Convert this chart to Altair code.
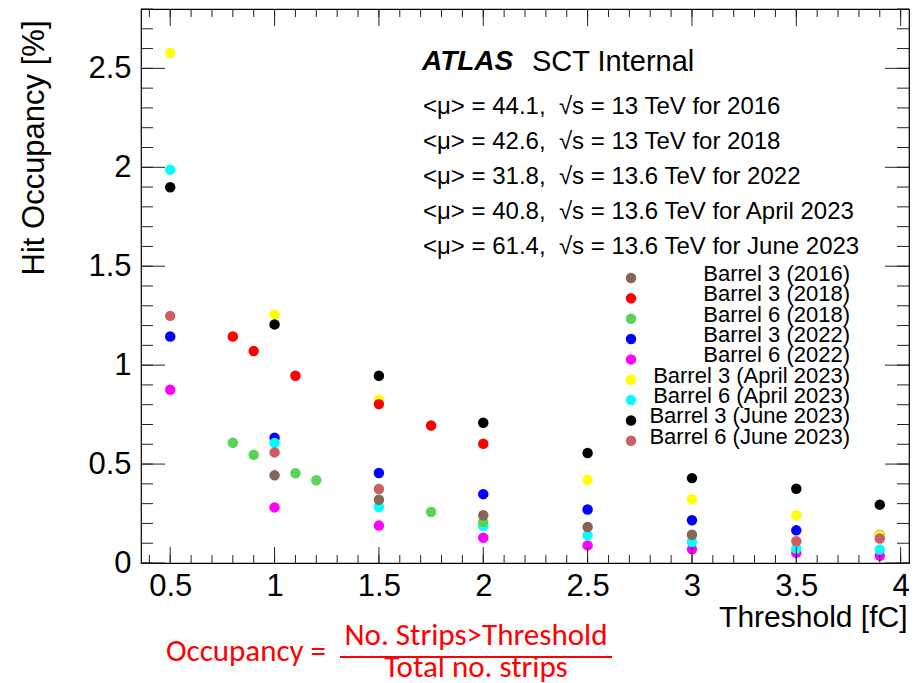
import altair as alt
import pandas as pd

# ---------------- data ----------------
series = ["Barrel 3 (2016)", "Barrel 3 (2018)", "Barrel 6 (2018)", "Barrel 3 (2022)",
          "Barrel 6 (2022)", "Barrel 3 (April 2023)", "Barrel 6 (April 2023)",
          "Barrel 3 (June 2023)", "Barrel 6 (June 2023)"]
colors = ["#876657", "#FF0000", "#59D454", "#0000FF", "#FF00FF", "#FFFF00", "#00FFFF",
          "#000000", "#CF5E61"]

thr_b3_2016 = [1.0, 1.5, 2.0, 2.5, 3.0]
occ_b3_2016 = [0.443, 0.320, 0.241, 0.182, 0.143]

thr_b3_2018 = [0.8, 0.9, 1.1, 1.5, 1.75, 2.0]
occ_b3_2018 = [1.145, 1.071, 0.946, 0.803, 0.695, 0.603]

thr_b6_2018 = [0.8, 0.9, 1.1, 1.2, 1.75, 2.0]
occ_b6_2018 = [0.608, 0.547, 0.454, 0.418, 0.258, 0.207]

thr_b3_2022 = [0.5, 1.0, 1.5, 2.0, 2.5, 3.0, 3.5, 3.9]
occ_b3_2022 = [1.145, 0.633, 0.455, 0.348, 0.270, 0.216, 0.165, 0.142]

thr_b6_2022 = [0.5, 1.0, 1.5, 2.0, 2.5, 3.0, 3.5, 3.9]
occ_b6_2022 = [0.876, 0.281, 0.189, 0.128, 0.089, 0.069, 0.051, 0.037]

thr_b3_apr23 = [0.5, 1.0, 1.5, 2.5, 3.0, 3.5, 3.9]
occ_b3_apr23 = [2.578, 1.256, 0.825, 0.421, 0.322, 0.241, 0.140]

thr_b6_apr23 = [0.5, 1.0, 1.5, 2.0, 2.5, 3.0, 3.5, 3.9]
occ_b6_apr23 = [1.988, 0.606, 0.283, 0.187, 0.140, 0.106, 0.073, 0.068]

thr_b3_jun23 = [0.5, 1.0, 1.5, 2.0, 2.5, 3.0, 3.5, 3.9]
occ_b3_jun23 = [1.899, 1.206, 0.946, 0.709, 0.556, 0.429, 0.375, 0.295]

thr_b6_jun23 = [0.5, 1.0, 1.5, 3.5, 3.9]
occ_b6_jun23 = [1.249, 0.559, 0.374, 0.110, 0.124]

x_tick_labels = [0.5, 1.0, 1.5, 2.0, 2.5, 3.0, 3.5, 4.0]
y_tick_labels = [0.0, 0.5, 1.0, 1.5, 2.0, 2.5]
x_minor = [round(0.4 + 0.1 * i, 2) for i in range(37)]
y_minor = [round(0.1 * i, 2) for i in range(29)]

NB = "\u00a0"
info_lines = ["<\u03bc>" + NB + "=" + NB + "44.1," + NB * 2 + "\u221as" + NB + "=" + NB + "13 TeV for 2016",
              "<\u03bc>" + NB + "=" + NB + "42.6," + NB * 2 + "\u221as" + NB + "=" + NB + "13 TeV for 2018",
              "<\u03bc>" + NB + "=" + NB + "31.8," + NB * 2 + "\u221as" + NB + "=" + NB + "13.6 TeV for 2022",
              "<\u03bc>" + NB + "=" + NB + "40.8," + NB * 2 + "\u221as" + NB + "=" + NB + "13.6 TeV for April 2023",
              "<\u03bc>" + NB + "=" + NB + "61.4," + NB * 2 + "\u221as" + NB + "=" + NB + "13.6 TeV for June 2023"]

# drawing order (later on top)
draw = [
    ("Barrel 6 (2022)", thr_b6_2022, occ_b6_2022),
    ("Barrel 3 (2022)", thr_b3_2022, occ_b3_2022),
    ("Barrel 3 (April 2023)", thr_b3_apr23, occ_b3_apr23),
    ("Barrel 6 (April 2023)", thr_b6_apr23, occ_b6_apr23),
    ("Barrel 6 (2018)", thr_b6_2018, occ_b6_2018),
    ("Barrel 3 (2018)", thr_b3_2018, occ_b3_2018),
    ("Barrel 3 (June 2023)", thr_b3_jun23, occ_b3_jun23),
    ("Barrel 6 (June 2023)", thr_b6_jun23, occ_b6_jun23),
    ("Barrel 3 (2016)", thr_b3_2016, occ_b3_2016),
]
rows = []
for name, xs_, ys_ in draw:
    for a, b in zip(xs_, ys_):
        rows.append({"thr": a, "occ": b, "series": name})
df = pd.DataFrame(rows)

# ---------------- layout ----------------
W, H = 768, 554
FONT = "Liberation Sans"
xs = alt.Scale(domain=[0.36, 4.04], nice=False, zero=False)
ys = alt.Scale(domain=[0, 2.8], nice=False, zero=False)
cscale = alt.Scale(domain=series, range=colors)

points = alt.Chart(df).mark_circle(size=110, opacity=1).encode(
    x=alt.X("thr:Q", scale=xs, title="Threshold [fC]", axis=alt.Axis(
        values=x_tick_labels, format="~g", tickSize=0, ticks=False, domain=False,
        grid=False, labelFontSize=31, labelFont=FONT, labelColor="black", labelPadding=8,
        labelFlush=False, labelOverlap=False, titleFontSize=30, titleFont=FONT,
        titleFontWeight="normal", titleColor="black", titleAnchor="end", titleAlign="right",
        titleX=W - 2, titleY=54, titleBaseline="middle")),
    y=alt.Y("occ:Q", scale=ys, title="Hit Occupancy [%]", axis=alt.Axis(
        values=y_tick_labels, format="~g", tickSize=0, ticks=False, domain=False,
        grid=False, labelFontSize=31, labelFont=FONT, labelColor="black", labelPadding=10,
        labelOverlap=False, titleFontSize=31, titleFont=FONT, titleFontWeight="normal",
        titleColor="black", titleAnchor="end", titleAlign="right", titleAngle=270,
        titleX=-107, titleY=11, titleBaseline="middle")),
    color=alt.Color("series:N", scale=cscale, legend=None),
)

# inner tick marks (ROOT style) drawn with rules through the same scales
layers = []
TICK = "#222222"
for vals, ln in [(y_minor, 12), (y_tick_labels, 24)]:
    d = pd.DataFrame({"occ": vals})
    layers.append(alt.Chart(d).mark_rule(color=TICK, strokeWidth=1).encode(
        y=alt.Y("occ:Q", scale=ys), x=alt.value(0), x2=alt.value(ln)))
    layers.append(alt.Chart(d).mark_rule(color=TICK, strokeWidth=1).encode(
        y=alt.Y("occ:Q", scale=ys), x=alt.value(W - ln), x2=alt.value(W)))
for vals, lb, lt in [(x_minor, 8, 8), (x_tick_labels, 16, 17)]:
    d = pd.DataFrame({"thr": vals})
    layers.append(alt.Chart(d).mark_rule(color=TICK, strokeWidth=1).encode(
        x=alt.X("thr:Q", scale=xs), y=alt.value(H - lb), y2=alt.value(H)))
    layers.append(alt.Chart(d).mark_rule(color=TICK, strokeWidth=1).encode(
        x=alt.X("thr:Q", scale=xs), y=alt.value(0), y2=alt.value(lt)))

# annotation texts
txt = []
txt.append(alt.Chart(pd.DataFrame({"t": ["ATLAS"]})).mark_text(
    align="left", baseline="middle", font=FONT, fontSize=28, fontWeight="bold",
    fontStyle="italic", color="black").encode(text="t:N", x=alt.value(281), y=alt.value(53)))
txt.append(alt.Chart(pd.DataFrame({"t": ["SCT Internal"]})).mark_text(
    align="left", baseline="middle", font=FONT, fontSize=29, color="black").encode(
    text="t:N", x=alt.value(391), y=alt.value(53)))
for i, line in enumerate(info_lines):
    txt.append(alt.Chart(pd.DataFrame({"t": [line]})).mark_text(
        align="left", baseline="middle", font=FONT, fontSize=24, color="black").encode(
        text="t:N", x=alt.value(282), y=alt.value(98 + 35 * i)))

# legend (manual, labels right-aligned as in the reference)
for i, name in enumerate(series):
    d = pd.DataFrame({"series": [name]})
    ry = 269 + 20.35 * i
    txt.append(alt.Chart(d).mark_circle(size=110, opacity=1).encode(
        x=alt.value(490), y=alt.value(ry),
        color=alt.Color("series:N", scale=cscale, legend=None)))
    txt.append(alt.Chart(d).mark_text(
        align="right", baseline="middle", font=FONT, fontSize=22, color="black").encode(
        x=alt.value(709), y=alt.value(ry - 4), text="series:N"))

# formula below the plot
RED = "#FF0000"
FF = "Carlito, Lato, sans-serif"
txt.append(alt.Chart(pd.DataFrame({"t": ["Occupancy" + NB + "="]})).mark_text(
    align="left", baseline="middle", font=FF, fontSize=31, color=RED).encode(
    text="t:N", x=alt.value(25), y=alt.value(643)))
txt.append(alt.Chart(pd.DataFrame({"t": ["No. Strips>Threshold"]})).mark_text(
    align="center", baseline="middle", font=FF, fontSize=31, color=RED).encode(
    text="t:N", x=alt.value(335), y=alt.value(627)))
txt.append(alt.Chart(pd.DataFrame({"t": ["Total no. strips"]})).mark_text(
    align="center", baseline="middle", font=FF, fontSize=31, color=RED).encode(
    text="t:N", x=alt.value(335), y=alt.value(659)))
txt.append(alt.Chart(pd.DataFrame({"t": ["bar"]})).mark_rule(color=RED, strokeWidth=2).encode(
    x=alt.value(199), x2=alt.value(471), y=alt.value(648)))

chart = alt.layer(points, *layers, *txt).properties(
    width=W, height=H,
    padding={"left": 141, "top": 9, "right": 6, "bottom": 120},
    autosize=alt.AutoSizeParams(type="none"),
    background="white",
).configure_view(stroke="black", strokeWidth=1.2)

chart.save("out.html", embed_options={"renderer": "svg", "actions": False})
